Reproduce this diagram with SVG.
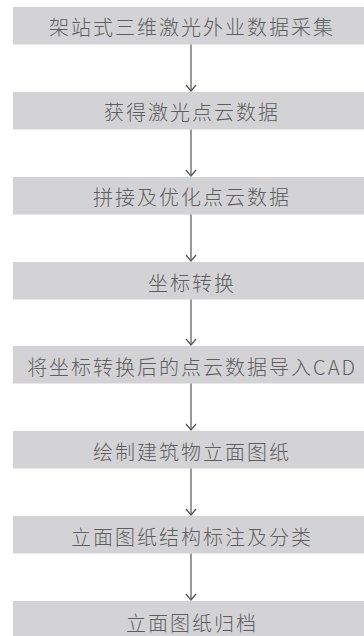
<svg xmlns="http://www.w3.org/2000/svg" width="364" height="636" viewBox="0 0 364 636">
<style>
.box{fill:#d3d3d5}
.t{font-family:"Noto Sans CJK SC","Noto Sans",sans-serif;font-size:20px;font-weight:300;fill:#5e5e5e;text-anchor:middle;dominant-baseline:central;letter-spacing:2px}
.c{stroke:#555;stroke-width:1.2;fill:none}
</style>
<defs>
<marker id="ah" markerWidth="10" markerHeight="12" refX="7" refY="6" orient="auto" markerUnits="userSpaceOnUse" viewBox="0 0 10 12">
<path d="M1,1 L7,6 L1,11" fill="none" stroke="#555" stroke-width="1.2"/>
</marker>
</defs>
<rect width="364" height="636" fill="#fff"/>
<g id="n1"><rect class="box" x="13" y="7" width="351" height="37.5"/><text class="t" x="192" y="26.5">架站式三维激光外业数据采集</text></g>
<g id="n2"><rect class="box" x="13" y="92" width="351" height="37.5"/><text class="t" x="192" y="111.5">获得激光点云数据</text></g>
<g id="n3"><rect class="box" x="13" y="177" width="351" height="37.5"/><text class="t" x="192" y="196.5">拼接及优化点云数据</text></g>
<g id="n4"><rect class="box" x="13" y="262" width="351" height="37.5"/><text class="t" x="192" y="282">坐标转换</text></g>
<g id="n5"><rect class="box" x="13" y="346" width="351" height="37.5"/><text class="t" x="192" y="366">将坐标转换后的点云数据导入CAD</text></g>
<g id="n6"><rect class="box" x="13" y="431" width="351" height="37.5"/><text class="t" x="192" y="451">绘制建筑物立面图纸</text></g>
<g id="n7"><rect class="box" x="13" y="516" width="351" height="37.5"/><text class="t" x="192" y="536">立面图纸结构标注及分类</text></g>
<g id="n8"><rect class="box" x="13" y="601" width="351" height="37.5"/><text class="t" x="192" y="622">立面图纸归档</text></g>
<g id="connectors">
<line class="c" x1="191" y1="44.5" x2="191" y2="91" marker-end="url(#ah)"/>
<line class="c" x1="191" y1="129.5" x2="191" y2="176" marker-end="url(#ah)"/>
<line class="c" x1="191" y1="214.5" x2="191" y2="261" marker-end="url(#ah)"/>
<line class="c" x1="191" y1="299.5" x2="191" y2="345" marker-end="url(#ah)"/>
<line class="c" x1="191" y1="383.5" x2="191" y2="430" marker-end="url(#ah)"/>
<line class="c" x1="191" y1="468.5" x2="191" y2="515" marker-end="url(#ah)"/>
<line class="c" x1="191" y1="553.5" x2="191" y2="600" marker-end="url(#ah)"/>
</g>
</svg>
